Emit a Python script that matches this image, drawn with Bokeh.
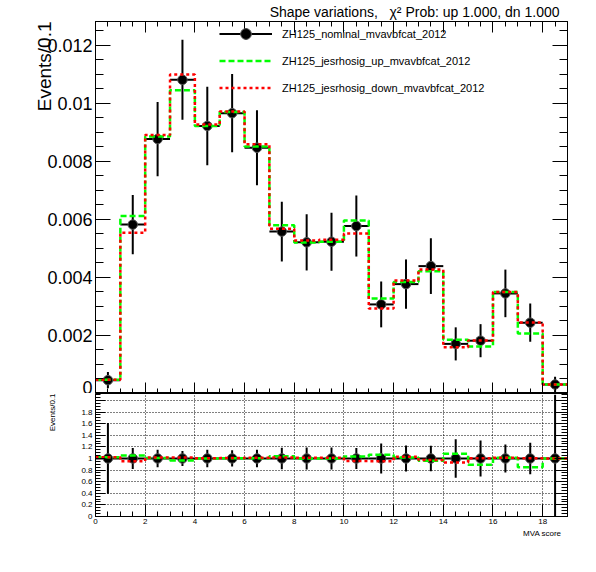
import numpy as np
from bokeh.plotting import figure
from bokeh.models import (Range1d, LinearAxis, SingleIntervalTicker, Title, Legend,
                          LegendItem, ColumnDataSource, CustomJSTickFormatter)
from bokeh.layouts import column
from bokeh.embed import file_html
from bokeh.resources import INLINE

# ---------------- data ----------------
bin_edges = [0, 1, 2, 3, 4, 5, 6, 7, 8, 9, 10, 11, 12, 13, 14, 15, 16, 17, 18, 19]
nominal = [0.00046, 0.00582, 0.00877, 0.01081, 0.00922, 0.00966, 0.00847, 0.00558, 0.00521,
           0.00523, 0.00577, 0.00307, 0.00377, 0.00439, 0.00171, 0.00182, 0.00345, 0.00244, 0.00031]
nominal_err = [0.00028, 0.00102, 0.00128, 0.00138, 0.00135, 0.00135, 0.00129, 0.00103, 0.00097,
               0.00100, 0.00105, 0.00079, 0.00085, 0.00096, 0.00057, 0.00057, 0.00082, 0.00066, 0.00027]
jes_up = [0.00047, 0.00612, 0.00886, 0.01045, 0.00922, 0.00970, 0.00851, 0.00580, 0.00520,
          0.00523, 0.00596, 0.00327, 0.00384, 0.00421, 0.00185, 0.00162, 0.00350, 0.00207, 0.00031]
jes_down = [0.00047, 0.00554, 0.00891, 0.01099, 0.00927, 0.00972, 0.00859, 0.00568, 0.00527,
            0.00530, 0.00551, 0.00293, 0.00389, 0.00427, 0.00159, 0.00183, 0.00350, 0.00245, 0.00031]
# relative errors of the nominal points as drawn in the ratio panel
ratio_err = [0.61, 0.18, 0.15, 0.13, 0.15, 0.14, 0.15, 0.185, 0.19, 0.19, 0.18, 0.26, 0.225,
             0.22, 0.33, 0.31, 0.24, 0.27, 1.1]

legend_labels = ["ZH125_nominal_mvavbfcat_2012",
                 "ZH125_jesrhosig_up_mvavbfcat_2012",
                 "ZH125_jesrhosig_down_mvavbfcat_2012"]
title_text = "Shape variations,\u00a0\u00a0 \u03c7\u00b2 Prob: up 1.000, dn 1.000"
y_title = "Events/0.1"
x_title = "MVA score"

FONT = "Liberation Sans"
GREEN = "#00ff00"
RED = "#ff0000"

edges = np.array(bin_edges, dtype=float)
lo = edges[:-1]
hi = edges[1:]
centers = (lo + hi) / 2
nom = np.array(nominal)
err = np.array(nominal_err)
up = np.array(jes_up)
dn = np.array(jes_down)

up_step = np.append(up, up[-1])
dn_step = np.append(dn, dn[-1])
r_up = up / nom
r_dn = dn / nom
r_up_step = np.append(r_up, r_up[-1])
r_dn_step = np.append(r_dn, r_dn[-1])
r_nom = nom / nom
r_err = np.array(ratio_err)


def style_axis(ax, tick_in, minor_in, font_size="0px", standoff=0):
    ax.major_tick_in = tick_in
    ax.major_tick_out = 0
    ax.minor_tick_in = minor_in
    ax.minor_tick_out = 0
    ax.major_label_text_font = FONT
    ax.major_label_text_font_size = font_size
    ax.major_label_text_color = "black"
    ax.major_label_standoff = standoff
    ax.axis_line_color = "black"
    ax.major_tick_line_color = "black"
    ax.minor_tick_line_color = "black"


# ---------------- top panel ----------------
p = figure(frame_width=472, frame_height=372, x_range=Range1d(0, 19), y_range=Range1d(0, 0.01282),
           output_backend="svg", toolbar_location=None,
           min_border_left=95, min_border_right=29, min_border_top=20, min_border_bottom=0)
p.grid.visible = False
p.outline_line_color = "black"
p.outline_line_width = 1

xb = p.xaxis[0]
xb.ticker = SingleIntervalTicker(interval=2, num_minor_ticks=4)
style_axis(xb, 11, 5)

yl = p.yaxis[0]
yl.ticker = SingleIntervalTicker(interval=0.002, num_minor_ticks=4)
yl.formatter = CustomJSTickFormatter(code="return String(parseFloat(tick.toFixed(4)));")
style_axis(yl, 15, 8, "18px", 3)

ax_top = LinearAxis(ticker=SingleIntervalTicker(interval=2, num_minor_ticks=4))
style_axis(ax_top, 11, 5)
p.add_layout(ax_top, "above")
ax_right = LinearAxis(ticker=SingleIntervalTicker(interval=0.002, num_minor_ticks=4))
style_axis(ax_right, 15, 8)
p.add_layout(ax_right, "right")

src = ColumnDataSource(dict(x=centers, lo=lo, hi=hi, y=nom, ylo=nom - err, yhi=nom + err))
r_h = p.segment(x0="lo", y0="y", x1="hi", y1="y", source=src, line_color="black", line_width=2)
p.segment(x0="x", y0="ylo", x1="x", y1="yhi", source=src, line_color="black", line_width=2)
r_pts = p.scatter(x="x", y="y", source=src, marker="circle", size=9.5,
                  fill_color="black", line_color="#555555", line_width=1)
r_cross = p.scatter(x=[np.nan], y=[np.nan], marker="cross", size=10,
                    line_color="black", line_width=2)
r_upl = p.step(x=edges, y=up_step, mode="after", line_color=GREEN, line_width=2.5, line_dash="6 3")
r_dnl = p.step(x=edges, y=dn_step, mode="after", line_color=RED, line_width=2.5, line_dash="3 3")

legend = Legend(items=[LegendItem(label=legend_labels[0], renderers=[r_h, r_cross, r_pts]),
                       LegendItem(label=legend_labels[1], renderers=[r_upl]),
                       LegendItem(label=legend_labels[2], renderers=[r_dnl])],
                location=(124, 292), orientation="vertical",
                glyph_width=53, glyph_height=27, label_height=27, spacing=0,
                padding=0, margin=0, border_line_alpha=0, background_fill_alpha=0,
                label_text_font=FONT, label_text_font_size="11px", label_standoff=10,
                label_text_baseline="middle", label_text_color="black")
p.add_layout(legend)

p.add_layout(Title(text=title_text, align="right", offset=8, standoff=3,
                   text_font=FONT, text_font_size="14px", text_font_style="normal",
                   text_color="black"), "above")
p.add_layout(Title(text=y_title, align="right", offset=0, standoff=-20,
                   text_font=FONT, text_font_size="19px", text_font_style="normal",
                   text_color="black"), "left")

# ---------------- ratio panel ----------------
p2 = figure(frame_width=472, frame_height=123, x_range=p.x_range, y_range=Range1d(0, 2.12),
            output_backend="svg", toolbar_location=None,
            min_border_left=95, min_border_right=29, min_border_top=0, min_border_bottom=40)
p2.outline_line_color = "black"
p2.outline_line_width = 1

xb2 = p2.xaxis[0]
xb2.ticker = SingleIntervalTicker(interval=2, num_minor_ticks=4)
style_axis(xb2, 12, 5, "8px", 2)

yl2 = p2.yaxis[0]
yl2.ticker = SingleIntervalTicker(interval=0.2, num_minor_ticks=4)
yl2.formatter = CustomJSTickFormatter(
    code="const v = parseFloat(tick.toFixed(2)); return v > 1.95 ? '' : String(v);")
style_axis(yl2, 10, 5, "8px", 3)

ax_right2 = LinearAxis(ticker=SingleIntervalTicker(interval=0.2, num_minor_ticks=4))
style_axis(ax_right2, 13, 6)
p2.add_layout(ax_right2, "right")

p2.xgrid.ticker = SingleIntervalTicker(interval=2)
p2.ygrid.ticker = SingleIntervalTicker(interval=0.2)
p2.grid.grid_line_color = "black"
p2.grid.grid_line_dash = "1 2"
p2.grid.grid_line_width = 1

src2 = ColumnDataSource(dict(x=centers, lo=lo, hi=hi, y=r_nom, ylo=r_nom - r_err, yhi=r_nom + r_err))
p2.segment(x0="lo", y0="y", x1="hi", y1="y", source=src2, line_color="black", line_width=2)
p2.segment(x0="x", y0="ylo", x1="x", y1="yhi", source=src2, line_color="black", line_width=2)
p2.scatter(x="x", y="y", source=src2, marker="circle", size=9.5,
           fill_color="black", line_color="#555555", line_width=1)
p2.step(x=edges, y=r_up_step, mode="after", line_color=GREEN, line_width=2.5, line_dash="6 3")
p2.step(x=edges, y=r_dn_step, mode="after", line_color=RED, line_width=2.5, line_dash="3 3")

p2.add_layout(Title(text=y_title, align="right", offset=0, standoff=43,
                    text_font=FONT, text_font_size="8px", text_font_style="normal",
                    text_color="black"), "left")
p2.add_layout(Title(text=x_title, align="right", offset=6, standoff=1,
                    text_font=FONT, text_font_size="8px", text_font_style="normal",
                    text_color="black"), "below")

layout = column(p, p2, spacing=0)
open("out.html", "w").write(file_html(layout, INLINE))
